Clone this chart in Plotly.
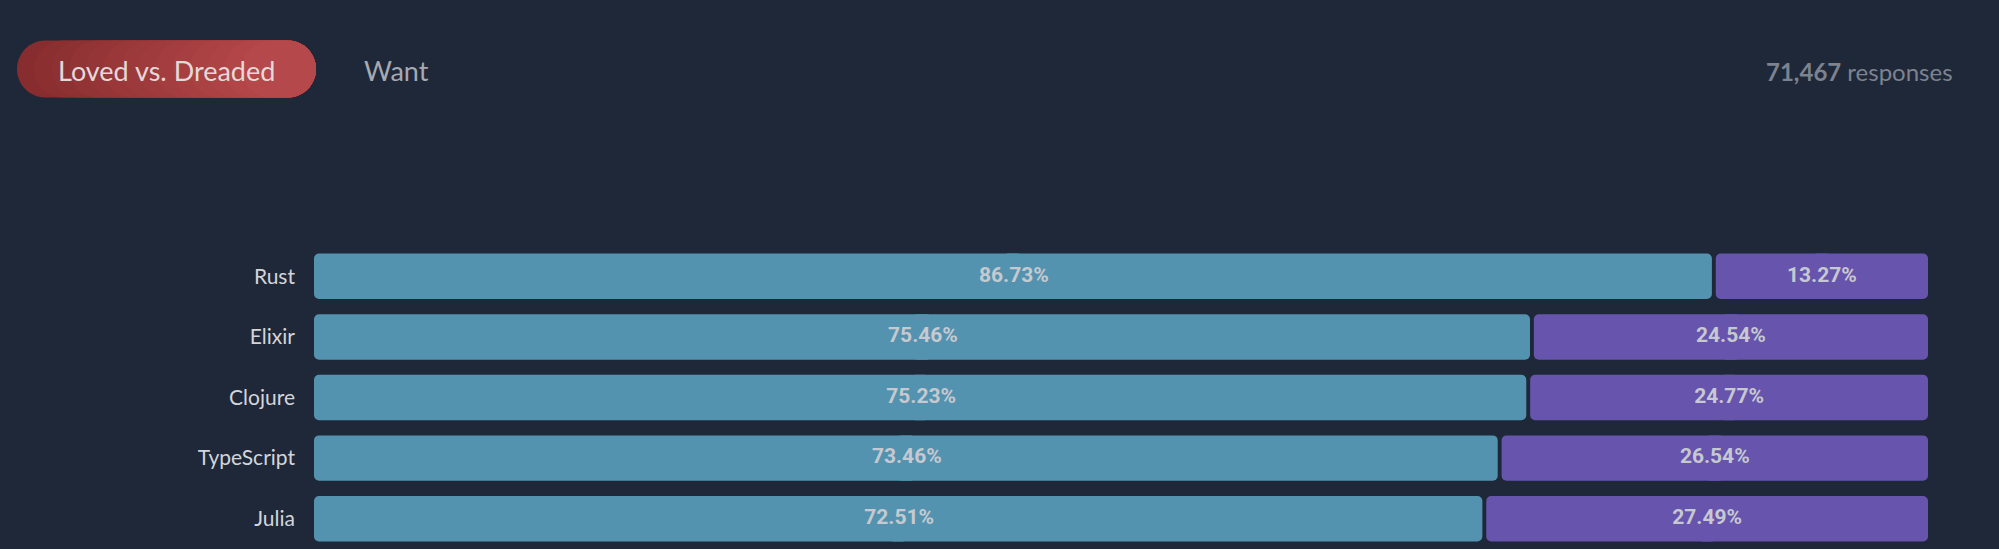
import plotly.graph_objects as go

# ---------------- data ----------------
languages = ['Rust', 'Elixir', 'Clojure', 'TypeScript', 'Julia']
loved = [86.73, 75.46, 75.23, 73.46, 72.51]      # % loved
dreaded = [13.27, 24.54, 24.77, 26.54, 27.49]    # % dreaded
tabs = ['Loved vs. Dreaded', 'Want']
responses = '71,467'

# ---------------- style ----------------
W, H = 1999, 549
ML, MR, MT, MB = 314, 71, 246, 0
BG = '#1f2839'
TEAL = '#5493b0'
PURPLE = '#6754ac'
GAP = 0.12      # half of the small space between the two segments, in axis units
OVERLAP = 0.6   # the two halves of a segment overlap a little to hide the seam

pw = W - ML - MR
ph = H - MT - MB


def px_x(px):
    return (px - ML) / float(pw)


def px_y(py):
    return (H - MB - py) / float(ph)


def pill_path(x0, x1, h):
    # rounded pill from x0 to x1 (pixels, relative to the anchor), centred vertically
    r = h / 2.0
    a, b = x0 + r, x1 - r
    k = 0.5523 * r
    return ('M %f,%f L %f,%f ' % (a, -r, b, -r) +
            'C %f,%f %f,%f %f,%f ' % (b + k, -r, b + r, -k, b + r, 0) +
            'C %f,%f %f,%f %f,%f ' % (b + r, k, b + k, r, b, r) +
            'L %f,%f ' % (a, r) +
            'C %f,%f %f,%f %f,%f ' % (a - k, r, a - r, k, a - r, 0) +
            'C %f,%f %f,%f %f,%f Z' % (a - r, -k, a - k, -r, a, -r))


def segment(starts, ends, color):
    # two half bars growing away from the middle, so both ends get rounded
    mids = [(a + b) / 2.0 for a, b in zip(starts, ends)]
    lbase = [m + OVERLAP for m in mids]
    rbase = [m - OVERLAP for m in mids]
    left = go.Bar(y=languages, base=lbase, x=[a - m for a, m in zip(starts, lbase)],
                  orientation='h', marker=dict(color=color, line=dict(width=0)),
                  hoverinfo='skip')
    right = go.Bar(y=languages, base=rbase, x=[b - m for b, m in zip(ends, rbase)],
                   orientation='h', marker=dict(color=color, line=dict(width=0)),
                   hoverinfo='skip')
    return [left, right]


fig = go.Figure()

totals = [a + b for a, b in zip(loved, dreaded)]
loved_end = [v - GAP for v in loved]
dreaded_start = [v + GAP for v in loved]

for tr in segment([0] * len(loved), loved_end, TEAL):
    fig.add_trace(tr)
for tr in segment(dreaded_start, totals, PURPLE):
    fig.add_trace(tr)

# percentage labels centred in each segment
label_font = dict(family='Roboto', size=21, color='#c6c9cf', weight='bold')
fig.add_trace(go.Scatter(y=languages, x=[v / 2.0 for v in loved],
                         text=['%.2f%%' % v for v in loved], mode='text',
                         textfont=label_font, hoverinfo='skip'))
fig.add_trace(go.Scatter(y=languages, x=[s + (t - s) / 2.0 for s, t in zip(dreaded_start, totals)],
                         text=['%.2f%%' % v for v in dreaded], mode='text',
                         textfont=label_font, hoverinfo='skip'))

fig.update_layout(width=W, height=H,
                  margin=dict(l=ML, r=MR, t=MT, b=MB, autoexpand=False),
                  paper_bgcolor=BG, plot_bgcolor=BG,
                  barmode='overlay', bargap=0.25, barcornerradius=5,
                  showlegend=False,
                  xaxis=dict(range=[0, 100], visible=False, fixedrange=True),
                  yaxis=dict(type='category', autorange='reversed', showgrid=False,
                             zeroline=False, showline=False, ticks='',
                             ticklabelstandoff=18, fixedrange=True,
                             tickfont=dict(family='Lato', size=21, color='#d3d5da')))

# header: selected tab pill (stepped red gradient), other tab, response count
pill_l, pill_r, pill_h, pill_cy = 17, 316, 57, 69
steps = 14
c0 = (136, 45, 47)
c1 = (181, 72, 74)
for i in range(steps):
    t = i / float(steps - 1)
    col = 'rgb(%d,%d,%d)' % tuple(int(c0[j] + (c1[j] - c0[j]) * t) for j in range(3))
    x0 = (pill_r - pill_l - pill_h) * i / float(steps)
    fig.add_shape(type='path', xref='paper', yref='paper',
                  xsizemode='pixel', ysizemode='pixel',
                  xanchor=px_x(pill_l), yanchor=px_y(pill_cy),
                  path=pill_path(x0, pill_r - pill_l, pill_h),
                  fillcolor=col, line=dict(width=0))

fig.add_annotation(text=tabs[0], xref='paper', yref='paper', x=px_x((pill_l + pill_r) / 2.0),
                   y=px_y(70), xanchor='center', yanchor='middle', showarrow=False,
                   font=dict(family='Lato', size=27, color='#e4d8d8'))
fig.add_annotation(text=tabs[1], xref='paper', yref='paper', x=px_x(362), y=px_y(70),
                   xanchor='left', yanchor='middle', showarrow=False,
                   font=dict(family='Lato', size=27, color='#a6aab2'))
fig.add_annotation(text='<b>%s</b> responses' % responses, xref='paper', yref='paper',
                   x=px_x(1955), y=px_y(71), xanchor='right', yanchor='middle', showarrow=False,
                   font=dict(family='Lato', size=24, color='#7c838f'))

fig.write_html('out.html', config=dict(displayModeBar=False),
               post_script="document.body.style.margin='0px';")
